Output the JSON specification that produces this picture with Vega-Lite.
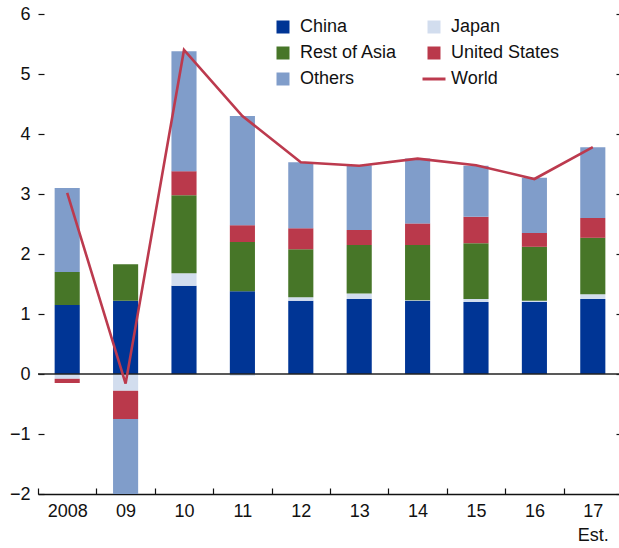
{
  "$schema": "https://vega.github.io/schema/vega-lite/v6.json",
  "autosize": "none",
  "width": 584,
  "height": 480,
  "padding": {"left": 38, "top": 14, "right": 0, "bottom": 54},
  "config": {
    "font": "Liberation Sans",
    "view": {"stroke": null},
    "axis": {"grid": false, "labelFont": "Liberation Sans", "labelFontSize": 18, "labelColor": "#111111", "tickColor": "#111111", "domainColor": "#111111"}
  },
  "datasets": {
    "seriesorder": [
      {"series": "China", "rank": 1},
      {"series": "Japan", "rank": 2},
      {"series": "Rest of Asia", "rank": 3},
      {"series": "United States", "rank": 4},
      {"series": "Others", "rank": 5}
    ],
    "parts": [
      {"year": "2008", "series": "China", "value": 1.15},
      {"year": "2008", "series": "Japan", "value": -0.08},
      {"year": "2008", "series": "Rest of Asia", "value": 0.55},
      {"year": "2008", "series": "United States", "value": -0.07},
      {"year": "2008", "series": "Others", "value": 1.40},
      {"year": "09", "series": "China", "value": 1.22},
      {"year": "09", "series": "Japan", "value": -0.28},
      {"year": "09", "series": "Rest of Asia", "value": 0.61},
      {"year": "09", "series": "United States", "value": -0.47},
      {"year": "09", "series": "Others", "value": -1.25},
      {"year": "10", "series": "China", "value": 1.47},
      {"year": "10", "series": "Japan", "value": 0.21},
      {"year": "10", "series": "Rest of Asia", "value": 1.30},
      {"year": "10", "series": "United States", "value": 0.40},
      {"year": "10", "series": "Others", "value": 2.00},
      {"year": "11", "series": "China", "value": 1.38},
      {"year": "11", "series": "Japan", "value": -0.03},
      {"year": "11", "series": "Rest of Asia", "value": 0.82},
      {"year": "11", "series": "United States", "value": 0.28},
      {"year": "11", "series": "Others", "value": 1.82},
      {"year": "12", "series": "China", "value": 1.22},
      {"year": "12", "series": "Japan", "value": 0.06},
      {"year": "12", "series": "Rest of Asia", "value": 0.80},
      {"year": "12", "series": "United States", "value": 0.35},
      {"year": "12", "series": "Others", "value": 1.10},
      {"year": "13", "series": "China", "value": 1.25},
      {"year": "13", "series": "Japan", "value": 0.09},
      {"year": "13", "series": "Rest of Asia", "value": 0.81},
      {"year": "13", "series": "United States", "value": 0.25},
      {"year": "13", "series": "Others", "value": 1.08},
      {"year": "14", "series": "China", "value": 1.22},
      {"year": "14", "series": "Japan", "value": 0.01},
      {"year": "14", "series": "Rest of Asia", "value": 0.92},
      {"year": "14", "series": "United States", "value": 0.36},
      {"year": "14", "series": "Others", "value": 1.08},
      {"year": "15", "series": "China", "value": 1.20},
      {"year": "15", "series": "Japan", "value": 0.05},
      {"year": "15", "series": "Rest of Asia", "value": 0.93},
      {"year": "15", "series": "United States", "value": 0.44},
      {"year": "15", "series": "Others", "value": 0.85},
      {"year": "16", "series": "China", "value": 1.20},
      {"year": "16", "series": "Japan", "value": 0.02},
      {"year": "16", "series": "Rest of Asia", "value": 0.90},
      {"year": "16", "series": "United States", "value": 0.23},
      {"year": "16", "series": "Others", "value": 0.92},
      {"year": "17", "series": "China", "value": 1.25},
      {"year": "17", "series": "Japan", "value": 0.08},
      {"year": "17", "series": "Rest of Asia", "value": 0.94},
      {"year": "17", "series": "United States", "value": 0.33},
      {"year": "17", "series": "Others", "value": 1.18}
    ],
    "world": [
      {"year": "2008", "world": 3.02},
      {"year": "09", "world": -0.16},
      {"year": "10", "world": 5.40},
      {"year": "11", "world": 4.30},
      {"year": "12", "world": 3.53},
      {"year": "13", "world": 3.47},
      {"year": "14", "world": 3.59},
      {"year": "15", "world": 3.48},
      {"year": "16", "world": 3.25},
      {"year": "17", "world": 3.78}
    ],
    "zero": [{"v": 0}]
  },
  "layer": [
    {
      "data": {"name": "parts"},
      "transform": [
        {"lookup": "series", "from": {"data": {"name": "seriesorder"}, "key": "series", "fields": ["rank"]}}
      ],
      "mark": {"type": "bar", "width": {"band": 0.43}, "clip": true},
      "encoding": {
        "x": {
          "field": "year", "type": "nominal", "sort": null, "title": null,
          "scale": {"paddingInner": 0, "paddingOuter": 0},
          "axis": {
            "orient": "bottom", "labelAngle": 0, "tickBand": "extent", "tickSize": -6,
            "domainWidth": 1.5, "tickWidth": 1.2, "labelPadding": 14, "labelLineHeight": 24,
            "labelExpr": "datum.value === '17' ? ['17', 'Est.'] : datum.label"
          }
        },
        "y": {
          "field": "value", "type": "quantitative", "stack": "zero", "title": null,
          "scale": {"domain": [-2, 6], "nice": false, "zero": false},
          "axis": {"orient": "left", "domain": false, "tickSize": -6, "tickWidth": 1.2, "values": [-2, -1, 0, 1, 2, 3, 4, 5, 6], "labelPadding": 14, "labelBaseline": "middle"}
        },
        "color": {
          "field": "series", "type": "nominal",
          "scale": {
            "domain": ["China", "Rest of Asia", "Others", "Japan", "United States", "World"],
            "range": ["#003595", "#477628", "#809DCA", "#D2DDEE", "#BA394B", "#BC3A4E"]
          },
          "legend": {
            "title": null, "orient": "none", "legendX": 236, "legendY": 4,
            "columns": 2, "columnPadding": 18, "rowPadding": 8, "padding": 0,
            "symbolType": "square", "symbolSize": 169, "labelOffset": 8,
            "labelFontSize": 18, "labelColor": "#111111", "labelFont": "Liberation Sans",
            "encode": {
              "symbols": {
                "update": {
                  "shape": {"signal": "datum.label === 'World' ? 'stroke' : 'square'"},
                  "stroke": {"signal": "datum.label === 'World' ? '#BC3A4E' : 'transparent'"},
                  "strokeWidth": {"signal": "datum.label === 'World' ? 3 : 0"},
                  "size": {"signal": "datum.label === 'World' ? 529 : 169"}
                }
              }
            }
          }
        },
        "order": {"field": "rank", "type": "quantitative", "sort": "ascending"}
      }
    },
    {
      "data": {"name": "zero"},
      "mark": {"type": "rule", "color": "#222222", "strokeWidth": 1.5},
      "encoding": {"y": {"field": "v", "type": "quantitative", "axis": null}}
    },
    {
      "data": {"name": "world"},
      "mark": {"type": "line", "color": "#BC3A4E", "strokeWidth": 2.6},
      "encoding": {
        "x": {"field": "year", "type": "nominal", "sort": null},
        "y": {
          "field": "world", "type": "quantitative",
          "axis": {"orient": "right", "domain": false, "labels": false, "tickSize": -6, "tickWidth": 1.2, "values": [-2, -1, 0, 1, 2, 3, 4, 5, 6], "title": null}
        }
      }
    }
  ],
  "resolve": {"axis": {"y": "independent"}}
}
